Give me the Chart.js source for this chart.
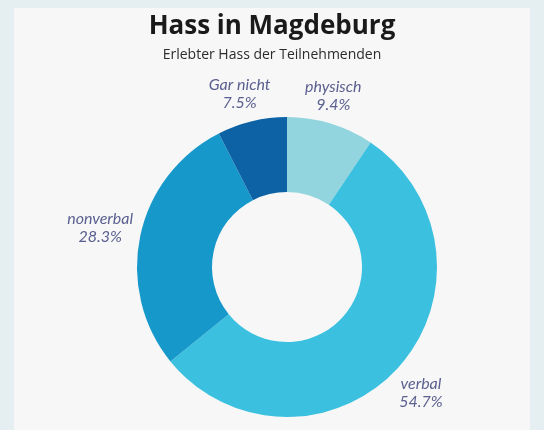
<!DOCTYPE html>
<html>
<head>
<meta charset="utf-8">
<script src="https://cdn.jsdelivr.net/npm/chart.js@4"></script>
<style>
    html, body { margin: 0; padding: 0; background: #e5eef0; }
    body { width: 544px; height: 430px; overflow: hidden; }
    #panel { position: absolute; left: 14px; top: 8px; width: 516px; height: 422px; background: #f7f7f7; }
</style>
</head>
<body>
<div id="panel"><canvas id="hassChart" width="516" height="422"></canvas></div>
<script>
// values, clockwise from 12 o'clock
const categories = ["physisch", "verbal", "nonverbal", "Gar nicht"];
const shares = [9.4, 54.7, 28.3, 7.5];
const sliceColors = ["#93d5de", "#3bc0df", "#1798cb", "#0c62a5"];

const chartTitle = "Hass in Magdeburg";
const chartSubtitle = "Erlebter Hass der Teilnehmenden";

const labelFont = "italic 16px Lato";
const labelColor = "#5b6090";

// title + subtitle centred on the panel (the donut itself sits a bit right of centre)
const header = {
    id: "header",
    afterDraw(chart) {
        const ctx = chart.ctx;
        const mid = chart.width / 2;
        ctx.save();
        ctx.textAlign = "center";
        ctx.textBaseline = "alphabetic";
        ctx.fillStyle = "#1a1a1a";
        ctx.font = "bold 26px 'Open Sans'";
        ctx.fillText(chartTitle, mid, 26);
        ctx.fillStyle = "#2b2b2b";
        ctx.font = "14px 'Open Sans'";
        ctx.fillText(chartSubtitle, mid, 51);
        ctx.restore();
    }
};

// draws "name / xx.x%" outside each slice
const outsideLabels = {
    id: "outsideLabels",
    afterDatasetsDraw(chart) {
        const ctx = chart.ctx;
        const meta = chart.getDatasetMeta(0);
        ctx.save();
        ctx.font = labelFont;
        ctx.fillStyle = labelColor;
        ctx.textAlign = "center";
        ctx.textBaseline = "middle";
        meta.data.forEach((arc, i) => {
            const { x, y, startAngle, endAngle, outerRadius } = arc.getProps(["x", "y", "startAngle", "endAngle", "outerRadius"], true);
            const mid = (startAngle + endAngle) / 2;
            const dx = Math.cos(mid);
            const dy = Math.sin(mid);
            const line1 = categories[i];
            const line2 = shares[i].toFixed(1) + "%";
            const halfW = Math.max(ctx.measureText(line1).width, ctx.measureText(line2).width) / 2;
            const halfH = 17;
            const dist = outerRadius + 4 + halfW * Math.abs(dx) + halfH * Math.abs(dy);
            // labels above the ring sit a little left in the original
            const cx = x + dx * dist - (dy < 0 ? 6 * Math.abs(dy) : 0);
            const cy = y + dy * dist + (dy > 0 ? 3 : 0);
            ctx.fillText(line1, cx, cy - 9);
            ctx.fillText(line2, cx, cy + 9);
        });
        ctx.restore();
    }
};

const ctx = document.getElementById("hassChart").getContext("2d");
new Chart(ctx, {
    type: "doughnut",
    data: {
        labels: categories,
        datasets: [
            {
                data: shares,
                backgroundColor: sliceColors,
                borderWidth: 0,
            },
        ],
    },
    options: {
        responsive: false,
        animation: false,
        cutout: "50%",
        layout: {
            padding: { top: 109, bottom: 13, left: 60, right: 30 },
        },
        plugins: {
            legend: { display: false },
            tooltip: { enabled: false },
        },
    },
    plugins: [header, outsideLabels],
});
</script>
</body>
</html>
